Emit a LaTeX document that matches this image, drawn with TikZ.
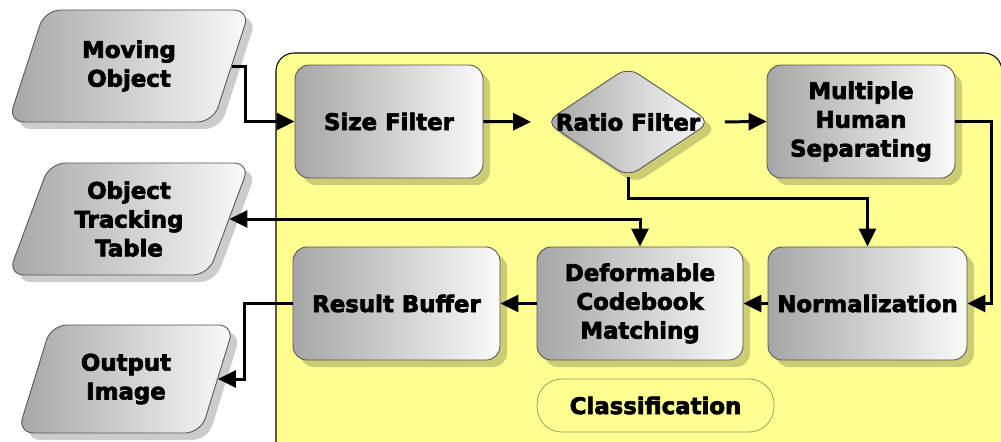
\documentclass[tikz,border=0pt]{standalone}
\usepackage{fontspec}
\setsansfont{DejaVu Sans}[BoldFeatures={FakeBold=3}]
\usepackage{tikz}
\usetikzlibrary{arrows.meta,positioning,calc,shapes.geometric,shadows}
\definecolor{panelyellow}{RGB}{255,255,145}
\definecolor{boxedge}{RGB}{85,85,85}
\definecolor{tagedge}{RGB}{150,150,95}

\tikzset{
  txt/.style={font=\sffamily\bfseries\fontsize{13}{16.4}\selectfont,align=center,text=black},
  boxshade/.style={left color=black!35,right color=black!2,draw=boxedge,line width=0.5pt,
    drop shadow={shadow xshift=4pt,shadow yshift=-4pt,opacity=0.2,fill=black}},
  procbox/.style={txt,boxshade,rounded corners=8pt,minimum height=2.26cm},
  iobox/.style={txt,boxshade,trapezium,trapezium left angle=70,trapezium right angle=110,
    trapezium stretches=true,rounded corners=9pt},
  flow/.style={line width=1.7pt,-{Triangle[length=0.36cm,width=0.34cm]}},
}

\begin{document}
\begin{tikzpicture}[x=0.02cm,y=-0.02cm]
\useasboundingbox (0,0) rectangle (1001,441);
% classification panel
\draw[fill=panelyellow,line width=0.6pt,rounded corners=0.36cm] (276,53) rectangle (1002,480);
% inputs and outputs
\node[iobox,minimum width=4.84cm,minimum height=2.24cm] (mo) at (129,66) {Moving\\Object};
\node[iobox,minimum width=4.84cm,minimum height=2.24cm] (ott) at (129,219) {Object\\Tracking\\Table};
\node[iobox,minimum width=4.34cm,minimum height=2.16cm] (oi) at (126,379) {Output\\Image};
% processing steps
\node[procbox,minimum width=3.76cm] (size) at (389,121.5) {Size Filter};
\node[txt,boxshade,diamond,rounded corners=7pt,inner sep=0pt,minimum width=3.3cm,minimum height=2.2cm,
  label={[txt]center:Ratio Filter}] (ratio) at (628,122) {};
\node[procbox,minimum width=3.76cm] (mhs) at (861,121.5) {Multiple\\Human\\Separating};
\node[procbox,minimum width=3.98cm] (norm) at (867.5,303.5) {Normalization};
\node[procbox,minimum width=4.12cm] (dcm) at (640,303.5) {Deformable\\Codebook\\Matching};
\node[procbox,minimum width=4.14cm] (rb) at (396.5,303.5) {Result Buffer};
\node[txt,draw=tagedge,fill=panelyellow,rounded corners=0.5cm,minimum width=4.74cm,minimum height=1.06cm] (cls) at (655.5,405.5) {Classification};
% connectors
\draw[flow] (mo.east) -- ++(14,0) |- (size.west);
\draw[flow,shorten >=0.28cm] (size.east) -- (ratio.west);
\draw[flow,shorten <=0.28cm] (ratio.east) -- (mhs.west);
\draw[flow] (ratio.south) -- ++(0,21) -| (norm.north);
\draw[flow] (mhs.east) -- ++(36,0) |- (norm.east);
\draw[flow] (norm.west) -- (dcm.east);
\draw[flow] (dcm.west) -- (rb.east);
\draw[flow,{Triangle[length=0.36cm,width=0.34cm]}-{Triangle[length=0.36cm,width=0.34cm]}] (ott.east) -| (dcm.north);
\draw[flow] (rb.west) -- ++(-48,0) |- (oi.east);
\end{tikzpicture}
\end{document}
